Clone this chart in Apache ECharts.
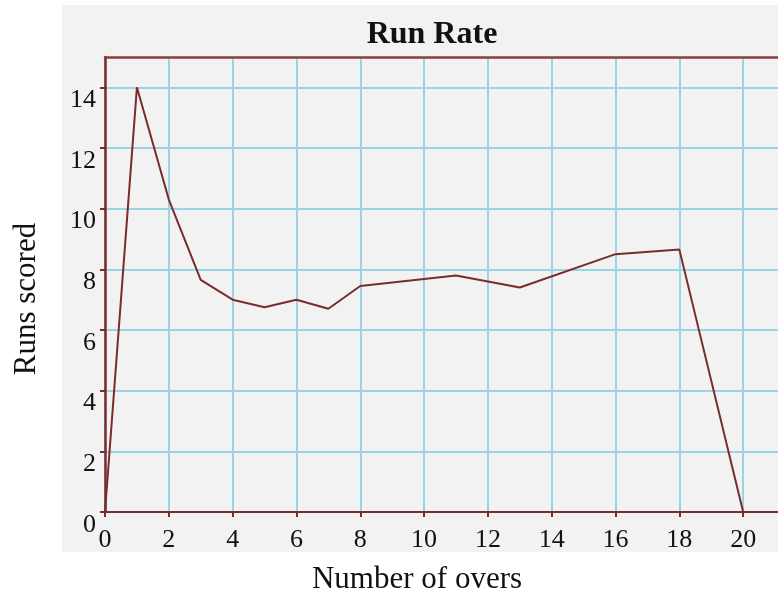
<!DOCTYPE html>
<html>
<head>
<meta charset="utf-8">
<title>Run Rate</title>
<script src="https://cdn.jsdelivr.net/npm/echarts@6/dist/echarts.min.js"></script>
<style>
  html, body { margin: 0; padding: 0; background: #ffffff; }
  #chart { width: 778px; height: 597px; }
</style>
</head>
<body>
<div id="chart"></div>
<script>
// Runs scored per over of an innings
const overs = [0, 1, 2, 3, 4, 5, 6, 7, 8, 11, 13, 16, 18, 20];
const runs  = [0, 14, 10.3, 7.65, 7.0, 6.75, 7.0, 6.7, 7.45, 7.8, 7.4, 8.5, 8.65, 0];

const titleText = 'Run Rate';
const xName = 'Number of overs';
const yName = 'Runs scored';

const maroon = '#7a2c2c';
const borderRed = '#8e3b3b';
const gridBlue = '#97d5e7';
const serif = '"Liberation Serif", "Times New Roman", serif';

const chart = echarts.init(document.getElementById('chart'), null, { renderer: 'canvas' });

chart.setOption({
  backgroundColor: '#ffffff',
  animation: false,
  title: {
    text: titleText,
    left: 427,
    top: 14,
    textAlign: 'center',
    textStyle: { fontFamily: serif, fontWeight: 'bold', fontSize: 32, color: '#111111' }
  },
  graphic: [
    {
      type: 'rect',
      z: -10,
      silent: true,
      shape: { x: 62, y: 5, width: 716, height: 547 },
      style: { fill: '#f2f2f2' }
    },
    {
      type: 'text',
      silent: true,
      x: 417,
      y: 580,
      style: {
        text: xName,
        font: '31px ' + serif,
        fill: '#111111',
        textAlign: 'center',
        textVerticalAlign: 'middle'
      }
    },
    {
      type: 'text',
      silent: true,
      x: 27,
      y: 299,
      rotation: Math.PI / 2,
      style: {
        text: yName,
        font: '31px ' + serif,
        fill: '#111111',
        textAlign: 'center',
        textVerticalAlign: 'middle'
      }
    }
  ],
  grid: {
    left: 105,
    top: 57,
    width: 702,
    height: 455,
    containLabel: false,
    outerBoundsMode: 'none',
    show: false
  },
  xAxis: [
    {
      type: 'value',
      min: 0,
      max: 22,
      interval: 2,
      axisLine: { show: true, onZero: false, lineStyle: { color: maroon, width: 2 } },
      axisTick: { show: true, length: 5, lineStyle: { color: maroon, width: 2 } },
      axisLabel: {
        fontFamily: serif, fontSize: 26, color: '#111111', margin: 15
      },
      splitLine: { show: true, lineStyle: { color: gridBlue, width: 2 } }
    },
    {
      // frame line along the top of the plot
      type: 'value',
      position: 'top',
      min: 0,
      max: 22,
      interval: 2,
      axisLine: { show: true, onZero: false, lineStyle: { color: borderRed, width: 2.5 } },
      axisTick: { show: false },
      axisLabel: { show: false },
      splitLine: { show: false }
    }
  ],
  yAxis: {
    type: 'value',
    min: 0,
    max: 15,
    interval: 2,
    axisLine: { show: true, onZero: false, lineStyle: { color: maroon, width: 2.5 } },
    axisTick: { show: true, length: 5, lineStyle: { color: maroon, width: 2 } },
    axisLabel: {
      fontFamily: serif, fontSize: 26, color: '#111111', margin: 9,
      showMaxLabel: false,
      verticalAlign: 'top'
    },
    splitLine: { show: true, showMaxLine: false, lineStyle: { color: gridBlue, width: 2 } }
  },
  series: [
    {
      type: 'line',
      xAxisIndex: 0,
      data: overs.map((o, i) => [o, runs[i]]),
      showSymbol: false,
      symbol: 'none',
      lineStyle: { color: maroon, width: 2 },
      z: 5
    }
  ]
});
</script>
</body>
</html>
